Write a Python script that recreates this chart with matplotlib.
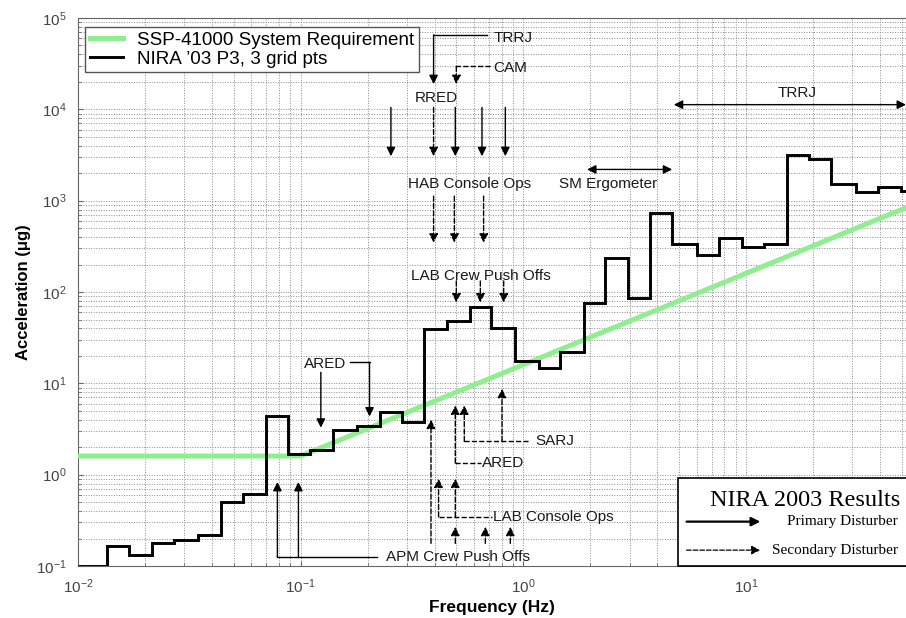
import matplotlib
matplotlib.use('Agg')
import matplotlib.pyplot as plt
from matplotlib.patches import Rectangle

plt.rcParams['font.family'] = ['Liberation Sans', 'DejaVu Sans']

# NIRA '03 P3 1/3-octave band edges (Hz) and levels (ug)
band_edges = [0.01, 0.01346, 0.01701, 0.02144, 0.02701, 0.03473, 0.04378, 0.05498,
              0.06998, 0.08815, 0.1103, 0.1390, 0.1789, 0.2277, 0.2850, 0.3591,
              0.4541, 0.5779, 0.7181, 0.9140, 1.172, 1.456, 1.866, 2.336, 2.955,
              3.695, 4.658, 6.036, 7.546, 9.614, 12.02, 15.32, 19.15, 23.98, 31.05,
              39.1, 49.5, 60.0]
nira_levels = [0.1, 0.166, 0.132, 0.177, 0.195, 0.218, 0.504, 0.611, 4.37, 1.70,
               1.88, 3.11, 3.37, 4.84, 3.76, 39.4, 48.5, 67.8, 40.0, 17.7, 14.8,
               21.9, 75.7, 238, 85, 738, 339, 255, 387, 311, 333, 3200, 2825, 1530,
               1250, 1407, 1262]

# SSP-41000 requirement
req_freq = [0.01, 0.1, 100]
req_acc = [1.6, 1.6, 1600]

fig = plt.figure(figsize=(9.06, 6.18), dpi=100)
ax = fig.add_axes([0.0861, 0.0841, 0.9139, 0.8868])
ax.set_xscale('log')
ax.set_yscale('log')
ax.set_xlim(1e-2, 52.3)
ax.set_ylim(1e-1, 1e5)

ax.grid(True, which='both', color='#8a8a8a', linestyle=(0, (1, 1.6)), linewidth=0.7)
ax.set_axisbelow(True)

ax.plot(req_freq, req_acc, color='#90ee90', lw=3.6, label='SSP-41000 System Requirement', zorder=3)
ax.stairs(nira_levels, band_edges, baseline=None, color='black', lw=2.1,
          label="NIRA \u201903 P3, 3 grid pts", zorder=4)

for s in ['left', 'bottom', 'top']:
    ax.spines[s].set_color('#666666')
ax.spines['right'].set_visible(False)
ax.tick_params(which='both', direction='in', colors='#666666', labelcolor='#444444',
               labelsize=11)
ax.tick_params(which='minor', length=2)
ax.tick_params(axis='x', pad=8)
ax.tick_params(axis='y', pad=8)
ax.set_xlabel('Frequency (Hz)', fontsize=12.5, fontweight='bold', labelpad=3)
ax.set_ylabel('Acceleration (\u03bcg)', fontsize=12, fontweight='bold', labelpad=4)

leg = ax.legend(loc='upper left', bbox_to_anchor=(0.0085, 0.9836), borderaxespad=0,
                fontsize=13.6, fancybox=False, edgecolor='#555555', framealpha=1,
                handlelength=1.75, handletextpad=0.75, labelspacing=0.08, borderpad=0.25)
leg.get_frame().set_linewidth(1.0)
leg.set_zorder(10)


def arrow(x0, y0, x1, y1, ls='-', style='-|>'):
    ax.annotate('', xy=(x1, y1), xytext=(x0, y0),
                arrowprops=dict(arrowstyle=style, color='black', lw=1.0, ls=ls,
                                mutation_scale=13, shrinkA=0, shrinkB=0), zorder=5)


def seg(xs, ys, ls='-'):
    ax.plot(xs, ys, color='black', lw=1.0, ls=ls, zorder=5)


def label(x, y, s, ha='left'):
    ax.text(x, y, s, ha=ha, va='center', fontsize=11, color='#1a1a1a', zorder=6)


# TRRJ / CAM at top
seg([0.687, 0.3953], [65400, 65400])
arrow(0.3953, 65400, 0.3953, 18900)
label(0.733, 61100, 'TRRJ')
seg([0.711, 0.5], [29500, 29500], '--')
arrow(0.5, 29500, 0.5, 18900, '--')
label(0.73, 28300, 'CAM')

# RRED
label(0.406, 13300, 'RRED', 'center')
rred_primary = [0.2543, 0.4948, 0.652, 0.830]
rred_secondary = [0.3953]
for f in rred_primary:
    arrow(f, 10500, f, 3070)
for f in rred_secondary:
    arrow(f, 10500, f, 3070, '--')

# HAB Console Ops
label(0.571, 1507, 'HAB Console Ops', 'center')
for f in [0.3953, 0.490, 0.663]:
    arrow(f, 1122, f, 347, '--')

# LAB Crew Push Offs
label(0.645, 150, 'LAB Crew Push Offs', 'center')
for f in [0.5, 0.641, 0.816]:
    arrow(f, 132, f, 76.8, '--')

# ARED (primary)
label(0.1288, 16.3, 'ARED', 'center')
arrow(0.1232, 13.2, 0.1232, 3.27)
seg([0.1669, 0.2038], [17.0, 17.0])
arrow(0.2038, 17.0, 0.2038, 4.34)

# APM Crew Push Offs
label(0.242, 0.1263, 'APM Crew Push Offs')
seg([0.0786, 0.2201], [0.1263, 0.1263])
for f in [0.0786, 0.0977]:
    arrow(f, 0.1263, f, 0.832)
arrow(0.3848, 0.177, 0.3848, 4.0, '--')
for f in [0.4948, 0.675, 0.874]:
    arrow(f, 0.177, f, 0.269, '--')

# LAB Console Ops
label(0.73, 0.345, 'LAB Console Ops')
seg([0.4162, 0.72], [0.345, 0.345], '--')
for f in [0.4162, 0.4948]:
    arrow(f, 0.345, f, 0.906, '--')

# ARED (secondary)
label(0.652, 1.342, 'ARED')
seg([0.4948, 0.645], [1.342, 1.342], '--')
arrow(0.4948, 1.342, 0.4948, 5.72, '--')

# SARJ
label(1.132, 2.31, 'SARJ')
seg([0.543, 1.056], [2.31, 2.31], '--')
arrow(0.543, 2.31, 0.543, 5.72, '--')
arrow(0.802, 2.31, 0.802, 8.71, '--')

# SM Ergometer and TRRJ ranges
arrow(1.933, 2197, 4.66, 2197, style='<|-|>')
label(2.41, 1507, 'SM Ergometer', 'center')
arrow(4.74, 11250, 52.3, 11250, style='<|-|>')
label(16.9, 15070, 'TRRJ', 'center')

# NIRA 2003 key box
ax.add_patch(Rectangle((0.725, 0.0), 0.35, 0.160, transform=ax.transAxes,
                       facecolor='white', edgecolor='black', lw=1.2, clip_on=False, zorder=8))
ax.text(0.993, 0.120, 'NIRA 2003 Results', transform=ax.transAxes, ha='right', va='center',
        fontsize=17.5, family='Liberation Serif', zorder=9)
ax.annotate('', xy=(0.824, 0.081), xytext=(0.735, 0.081), xycoords='axes fraction',
            arrowprops=dict(arrowstyle='-|>', color='black', lw=1.6, mutation_scale=13,
                            shrinkA=0, shrinkB=0), zorder=9)
ax.annotate('', xy=(0.824, 0.029), xytext=(0.735, 0.029), xycoords='axes fraction',
            arrowprops=dict(arrowstyle='-|>', color='black', lw=0.9, ls='--', mutation_scale=13,
                            shrinkA=0, shrinkB=0), zorder=9)
ax.text(0.990, 0.081, 'Primary Disturber', transform=ax.transAxes, ha='right', va='center',
        fontsize=11, family='Liberation Serif', zorder=9)
ax.text(0.990, 0.029, 'Secondary Disturber', transform=ax.transAxes, ha='right', va='center',
        fontsize=11, family='Liberation Serif', zorder=9)

fig.savefig('out.png', dpi=100)
